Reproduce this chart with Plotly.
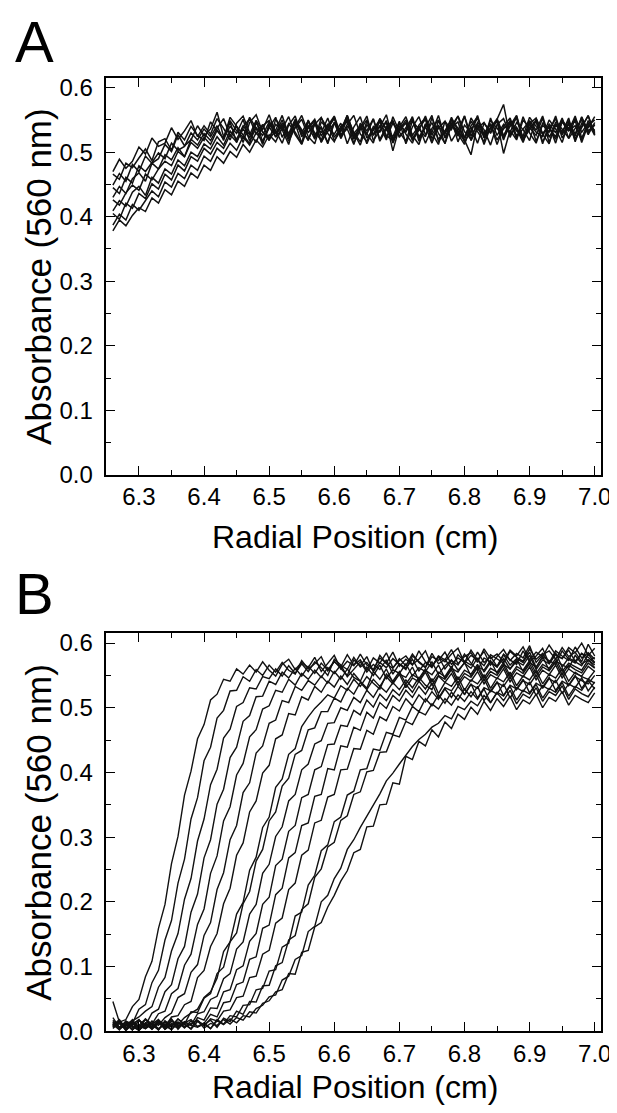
import plotly.graph_objects as go

# radial positions (cm) shared by every scan
RADIAL = [
    6.26, 6.27, 6.28, 6.29, 6.30, 6.31, 6.32, 6.33, 6.34, 6.35, 6.36, 6.37, 6.38, 6.39, 6.40,
    6.41, 6.42, 6.43, 6.44, 6.45, 6.46, 6.47, 6.48, 6.49, 6.50, 6.51, 6.52, 6.53, 6.54, 6.55,
    6.56, 6.57, 6.58, 6.59, 6.60, 6.61, 6.62, 6.63, 6.64, 6.65, 6.66, 6.67, 6.68, 6.69, 6.70,
    6.71, 6.72, 6.73, 6.74, 6.75, 6.76, 6.77, 6.78, 6.79, 6.80, 6.81, 6.82, 6.83, 6.84, 6.85,
    6.86, 6.87, 6.88, 6.89, 6.90, 6.91, 6.92, 6.93, 6.94, 6.95, 6.96, 6.97, 6.98, 6.99, 7.00,
]

# Panel A: absorbance at 560 nm, one list per scan
SCANS_A = [
    [0.470, 0.489, 0.475, 0.486, 0.508, 0.497, 0.522, 0.509, 0.514, 0.538, 0.520, 0.533, 0.549, 0.524, 0.541,
     0.528, 0.552, 0.537, 0.519, 0.545, 0.556, 0.530, 0.515, 0.541, 0.549, 0.523, 0.536, 0.555, 0.527, 0.512,
     0.539, 0.551, 0.525, 0.544, 0.518, 0.533, 0.557, 0.529, 0.541, 0.513, 0.536, 0.550, 0.522, 0.545, 0.531,
     0.517, 0.548, 0.536, 0.524, 0.553, 0.529, 0.514, 0.541, 0.556, 0.532, 0.520, 0.546, 0.535, 0.511, 0.543,
     0.552, 0.527, 0.539, 0.518, 0.549, 0.534, 0.556, 0.523, 0.542, 0.530, 0.553, 0.516, 0.545, 0.538, 0.555],
    [0.466, 0.458, 0.483, 0.476, 0.491, 0.505, 0.487, 0.516, 0.521, 0.503, 0.531, 0.519, 0.540, 0.526, 0.518,
     0.547, 0.533, 0.521, 0.554, 0.540, 0.526, 0.513, 0.549, 0.535, 0.558, 0.529, 0.542, 0.517, 0.538, 0.551,
     0.524, 0.513, 0.547, 0.536, 0.555, 0.521, 0.540, 0.531, 0.516, 0.548, 0.527, 0.539, 0.558, 0.519, 0.535,
     0.550, 0.526, 0.512, 0.543, 0.531, 0.557, 0.522, 0.538, 0.547, 0.515, 0.533, 0.553, 0.528, 0.544, 0.519,
     0.536, 0.548, 0.521, 0.555, 0.530, 0.514, 0.545, 0.537, 0.524, 0.551, 0.533, 0.541, 0.519, 0.549, 0.532],
    [0.449, 0.467, 0.455, 0.481, 0.470, 0.494, 0.483, 0.490, 0.512, 0.501, 0.527, 0.510, 0.519, 0.541, 0.525,
     0.536, 0.562, 0.524, 0.547, 0.515, 0.539, 0.552, 0.528, 0.543, 0.519, 0.534, 0.557, 0.526, 0.545, 0.514,
     0.548, 0.530, 0.519, 0.541, 0.556, 0.527, 0.536, 0.512, 0.545, 0.533, 0.552, 0.520, 0.539, 0.549, 0.525,
     0.534, 0.555, 0.521, 0.540, 0.514, 0.549, 0.530, 0.543, 0.525, 0.556, 0.518, 0.537, 0.546, 0.529, 0.551,
     0.522, 0.540, 0.553, 0.517, 0.544, 0.531, 0.524, 0.550, 0.536, 0.515, 0.547, 0.528, 0.554, 0.533, 0.542],
    [0.445, 0.436, 0.461, 0.452, 0.479, 0.470, 0.484, 0.499, 0.490, 0.514, 0.503, 0.509, 0.530, 0.519, 0.536,
     0.524, 0.541, 0.518, 0.549, 0.533, 0.523, 0.554, 0.537, 0.512, 0.544, 0.529, 0.550, 0.521, 0.539, 0.557,
     0.530, 0.546, 0.515, 0.537, 0.552, 0.524, 0.543, 0.557, 0.528, 0.517, 0.540, 0.531, 0.549, 0.514, 0.538,
     0.545, 0.518, 0.534, 0.556, 0.527, 0.542, 0.513, 0.551, 0.536, 0.523, 0.548, 0.531, 0.516, 0.553, 0.526,
     0.543, 0.530, 0.556, 0.521, 0.538, 0.549, 0.516, 0.535, 0.552, 0.527, 0.544, 0.519, 0.537, 0.557, 0.529],
    [0.430, 0.447, 0.436, 0.459, 0.468, 0.455, 0.483, 0.474, 0.496, 0.488, 0.507, 0.493, 0.520, 0.511, 0.529,
     0.518, 0.537, 0.552, 0.526, 0.540, 0.515, 0.546, 0.558, 0.531, 0.521, 0.543, 0.535, 0.512, 0.549, 0.527,
     0.541, 0.520, 0.553, 0.536, 0.528, 0.545, 0.513, 0.539, 0.555, 0.522, 0.534, 0.547, 0.526, 0.518, 0.544,
     0.531, 0.550, 0.524, 0.538, 0.557, 0.516, 0.533, 0.544, 0.527, 0.512, 0.541, 0.555, 0.522, 0.537, 0.548,
     0.519, 0.546, 0.533, 0.525, 0.554, 0.540, 0.528, 0.513, 0.547, 0.536, 0.522, 0.553, 0.531, 0.545, 0.526],
    [0.426, 0.418, 0.437, 0.449, 0.441, 0.466, 0.457, 0.474, 0.486, 0.479, 0.501, 0.493, 0.515, 0.506, 0.523,
     0.512, 0.534, 0.521, 0.540, 0.529, 0.551, 0.517, 0.538, 0.526, 0.547, 0.533, 0.514, 0.542, 0.556, 0.524,
     0.537, 0.549, 0.516, 0.532, 0.545, 0.523, 0.555, 0.530, 0.511, 0.543, 0.527, 0.552, 0.535, 0.519, 0.546,
     0.528, 0.514, 0.542, 0.553, 0.521, 0.537, 0.548, 0.517, 0.534, 0.556, 0.525, 0.543, 0.512, 0.539, 0.551,
     0.574, 0.523, 0.546, 0.535, 0.518, 0.552, 0.529, 0.541, 0.514, 0.548, 0.537, 0.525, 0.555, 0.530, 0.543],
    [0.409, 0.425, 0.416, 0.438, 0.447, 0.433, 0.461, 0.452, 0.474, 0.466, 0.488, 0.479, 0.500, 0.493, 0.513,
     0.505, 0.524, 0.511, 0.533, 0.520, 0.541, 0.527, 0.549, 0.516, 0.538, 0.554, 0.523, 0.544, 0.531, 0.513,
     0.550, 0.526, 0.539, 0.515, 0.546, 0.533, 0.557, 0.521, 0.540, 0.529, 0.514, 0.552, 0.536, 0.524, 0.548,
     0.513, 0.539, 0.555, 0.527, 0.546, 0.520, 0.533, 0.551, 0.516, 0.542, 0.530, 0.557, 0.523, 0.537, 0.548,
     0.498, 0.534, 0.519, 0.550, 0.538, 0.526, 0.553, 0.515, 0.544, 0.532, 0.549, 0.521, 0.540, 0.556, 0.527],
    [0.405, 0.396, 0.421, 0.413, 0.436, 0.428, 0.451, 0.443, 0.466, 0.457, 0.480, 0.471, 0.493, 0.486, 0.506,
     0.497, 0.515, 0.506, 0.527, 0.516, 0.536, 0.522, 0.545, 0.531, 0.518, 0.551, 0.537, 0.526, 0.548, 0.533,
     0.520, 0.543, 0.554, 0.529, 0.516, 0.540, 0.549, 0.525, 0.537, 0.556, 0.518, 0.534, 0.546, 0.502, 0.539,
     0.555, 0.526, 0.541, 0.514, 0.537, 0.550, 0.523, 0.545, 0.531, 0.518, 0.553, 0.536, 0.527, 0.544, 0.512,
     0.540, 0.553, 0.525, 0.536, 0.548, 0.517, 0.542, 0.531, 0.556, 0.522, 0.538, 0.549, 0.515, 0.543, 0.534],
    [0.387, 0.404, 0.395, 0.419, 0.410, 0.426, 0.440, 0.431, 0.454, 0.446, 0.467, 0.459, 0.480, 0.472, 0.494,
     0.486, 0.506, 0.497, 0.514, 0.503, 0.524, 0.511, 0.530, 0.517, 0.539, 0.524, 0.545, 0.529, 0.551, 0.535,
     0.518, 0.544, 0.530, 0.553, 0.523, 0.538, 0.547, 0.514, 0.535, 0.550, 0.527, 0.541, 0.519, 0.555, 0.532,
     0.546, 0.521, 0.537, 0.551, 0.515, 0.540, 0.528, 0.554, 0.533, 0.519, 0.496, 0.543, 0.526, 0.549, 0.537,
     0.524, 0.549, 0.536, 0.515, 0.544, 0.553, 0.528, 0.539, 0.520, 0.547, 0.533, 0.556, 0.522, 0.541, 0.550],
    [0.378, 0.395, 0.386, 0.402, 0.414, 0.408, 0.429, 0.421, 0.442, 0.434, 0.455, 0.447, 0.468, 0.460, 0.480,
     0.472, 0.493, 0.483, 0.501, 0.492, 0.512, 0.500, 0.519, 0.508, 0.527, 0.516, 0.538, 0.524, 0.545, 0.530,
     0.549, 0.524, 0.538, 0.513, 0.546, 0.532, 0.555, 0.520, 0.541, 0.528, 0.551, 0.517, 0.536, 0.547, 0.523,
     0.538, 0.553, 0.517, 0.544, 0.529, 0.512, 0.548, 0.535, 0.556, 0.522, 0.539, 0.514, 0.545, 0.531, 0.552,
     0.526, 0.541, 0.557, 0.519, 0.535, 0.548, 0.513, 0.544, 0.530, 0.553, 0.521, 0.537, 0.550, 0.527, 0.546],
]

# Panel B: absorbance at 560 nm, one list per scan (boundary moving outwards)
SCANS_B = [
    [0.046, 0.014, 0.018, 0.038, 0.049, 0.084, 0.108, 0.159, 0.196, 0.259, 0.301, 0.365, 0.402, 0.452, 0.474,
     0.512, 0.521, 0.544, 0.541, 0.560, 0.552, 0.566, 0.555, 0.571, 0.558, 0.549, 0.567, 0.575, 0.559, 0.570,
     0.562, 0.578, 0.556, 0.569, 0.581, 0.560, 0.572, 0.565, 0.583, 0.566, 0.559, 0.577, 0.569, 0.586, 0.564,
     0.575, 0.566, 0.588, 0.571, 0.562, 0.580, 0.574, 0.590, 0.568, 0.579, 0.585, 0.570, 0.591, 0.576, 0.583,
     0.571, 0.589, 0.580, 0.594, 0.574, 0.586, 0.579, 0.597, 0.582, 0.576, 0.593, 0.585, 0.600, 0.581, 0.592],
    [0.021, 0.006, 0.015, 0.012, 0.034, 0.041, 0.075, 0.094, 0.141, 0.171, 0.229, 0.266, 0.328, 0.361, 0.418,
     0.439, 0.484, 0.496, 0.526, 0.527, 0.548, 0.541, 0.559, 0.550, 0.566, 0.555, 0.570, 0.558, 0.552, 0.573,
     0.560, 0.568, 0.579, 0.557, 0.571, 0.563, 0.582, 0.566, 0.574, 0.558, 0.577, 0.569, 0.585, 0.562, 0.573,
     0.580, 0.567, 0.575, 0.588, 0.564, 0.578, 0.571, 0.583, 0.592, 0.569, 0.581, 0.574, 0.587, 0.566, 0.579,
     0.590, 0.573, 0.584, 0.577, 0.596, 0.570, 0.582, 0.588, 0.575, 0.593, 0.579, 0.586, 0.571, 0.598, 0.580],
    [0.009, 0.018, 0.004, 0.016, 0.022, 0.031, 0.038, 0.068, 0.083, 0.124, 0.151, 0.204, 0.236, 0.294, 0.328,
     0.381, 0.405, 0.453, 0.467, 0.502, 0.508, 0.531, 0.529, 0.548, 0.545, 0.560, 0.549, 0.565, 0.553, 0.568,
     0.556, 0.571, 0.562, 0.550, 0.575, 0.566, 0.559, 0.578, 0.563, 0.570, 0.557, 0.581, 0.568, 0.561, 0.576,
     0.565, 0.583, 0.570, 0.562, 0.579, 0.573, 0.586, 0.567, 0.577, 0.570, 0.589, 0.574, 0.565, 0.582, 0.576,
     0.569, 0.587, 0.578, 0.572, 0.591, 0.575, 0.584, 0.569, 0.588, 0.580, 0.573, 0.594, 0.577, 0.585, 0.575],
    [0.014, 0.003, 0.011, 0.002, 0.017, 0.009, 0.028, 0.034, 0.061, 0.072, 0.112, 0.131, 0.184, 0.212, 0.268,
     0.296, 0.351, 0.374, 0.423, 0.439, 0.479, 0.488, 0.517, 0.518, 0.541, 0.536, 0.555, 0.546, 0.561, 0.549,
     0.564, 0.553, 0.569, 0.558, 0.572, 0.561, 0.550, 0.574, 0.565, 0.579, 0.556, 0.570, 0.562, 0.576, 0.567,
     0.559, 0.580, 0.571, 0.563, 0.584, 0.568, 0.575, 0.561, 0.582, 0.572, 0.566, 0.586, 0.570, 0.579, 0.564,
     0.583, 0.574, 0.567, 0.588, 0.571, 0.580, 0.592, 0.568, 0.582, 0.576, 0.589, 0.572, 0.584, 0.578, 0.569],
    [0.008, 0.015, 0.001, 0.012, 0.005, 0.019, 0.011, 0.027, 0.031, 0.058, 0.066, 0.102, 0.119, 0.165, 0.189,
     0.244, 0.271, 0.325, 0.347, 0.396, 0.414, 0.455, 0.466, 0.498, 0.503, 0.527, 0.524, 0.544, 0.535, 0.553,
     0.544, 0.558, 0.547, 0.562, 0.553, 0.566, 0.548, 0.560, 0.571, 0.555, 0.567, 0.559, 0.574, 0.552, 0.568,
     0.561, 0.575, 0.557, 0.570, 0.564, 0.580, 0.560, 0.573, 0.566, 0.583, 0.569, 0.558, 0.577, 0.571, 0.563,
     0.582, 0.566, 0.576, 0.570, 0.586, 0.562, 0.579, 0.573, 0.567, 0.588, 0.575, 0.569, 0.584, 0.572, 0.578],
    [0.017, 0.006, 0.013, 0.002, 0.010, 0.004, 0.016, 0.009, 0.021, 0.028, 0.052, 0.058, 0.091, 0.103, 0.148,
     0.168, 0.219, 0.245, 0.296, 0.318, 0.369, 0.384, 0.430, 0.441, 0.476, 0.481, 0.511, 0.508, 0.533, 0.527,
     0.542, 0.535, 0.549, 0.538, 0.556, 0.544, 0.560, 0.547, 0.541, 0.563, 0.550, 0.566, 0.545, 0.559, 0.553,
     0.568, 0.549, 0.562, 0.556, 0.571, 0.552, 0.565, 0.574, 0.558, 0.569, 0.561, 0.577, 0.555, 0.570, 0.563,
     0.576, 0.560, 0.572, 0.566, 0.581, 0.559, 0.574, 0.568, 0.585, 0.563, 0.577, 0.571, 0.565, 0.583, 0.570],
    [0.004, 0.013, 0.007, 0.018, 0.002, 0.011, 0.003, 0.015, 0.006, 0.022, 0.024, 0.041, 0.046, 0.083, 0.094,
     0.131, 0.151, 0.197, 0.221, 0.272, 0.291, 0.339, 0.356, 0.399, 0.411, 0.452, 0.458, 0.491, 0.489, 0.517,
     0.512, 0.533, 0.524, 0.541, 0.532, 0.549, 0.536, 0.553, 0.541, 0.530, 0.556, 0.544, 0.560, 0.539, 0.552,
     0.547, 0.563, 0.542, 0.558, 0.551, 0.566, 0.545, 0.561, 0.555, 0.570, 0.549, 0.564, 0.558, 0.573, 0.553,
     0.567, 0.560, 0.575, 0.556, 0.570, 0.563, 0.579, 0.558, 0.572, 0.566, 0.561, 0.581, 0.568, 0.574, 0.562],
    [0.011, 0.002, 0.016, 0.005, 0.009, 0.019, 0.003, 0.012, 0.007, 0.015, 0.010, 0.021, 0.028, 0.034, 0.052,
     0.061, 0.082, 0.123, 0.138, 0.181, 0.199, 0.249, 0.269, 0.315, 0.331, 0.377, 0.390, 0.428, 0.437, 0.471,
     0.486, 0.499, 0.509, 0.520, 0.515, 0.534, 0.527, 0.544, 0.533, 0.548, 0.538, 0.529, 0.552, 0.541, 0.556,
     0.537, 0.551, 0.545, 0.560, 0.540, 0.555, 0.548, 0.564, 0.543, 0.558, 0.552, 0.567, 0.546, 0.561, 0.555,
     0.570, 0.549, 0.564, 0.558, 0.573, 0.553, 0.567, 0.561, 0.576, 0.556, 0.569, 0.563, 0.558, 0.574, 0.566],
    [0.006, 0.014, 0.003, 0.010, 0.018, 0.005, 0.012, 0.002, 0.016, 0.008, 0.019, 0.011, 0.030, 0.029, 0.051,
     0.058, 0.089, 0.099, 0.138, 0.152, 0.197, 0.216, 0.263, 0.281, 0.325, 0.339, 0.379, 0.391, 0.428, 0.434,
     0.466, 0.469, 0.494, 0.494, 0.515, 0.509, 0.530, 0.521, 0.539, 0.528, 0.544, 0.533, 0.548, 0.537, 0.552,
     0.531, 0.546, 0.540, 0.555, 0.535, 0.550, 0.544, 0.559, 0.538, 0.553, 0.547, 0.562, 0.542, 0.556, 0.550,
     0.565, 0.545, 0.560, 0.553, 0.568, 0.548, 0.563, 0.557, 0.571, 0.551, 0.566, 0.559, 0.554, 0.569, 0.561],
    [0.013, 0.004, 0.009, 0.017, 0.002, 0.011, 0.006, 0.014, 0.003, 0.012, 0.007, 0.015, 0.009, 0.027, 0.030,
     0.049, 0.054, 0.081, 0.089, 0.127, 0.138, 0.181, 0.196, 0.244, 0.258, 0.301, 0.316, 0.356, 0.366, 0.404,
     0.413, 0.444, 0.449, 0.476, 0.477, 0.500, 0.496, 0.516, 0.508, 0.527, 0.516, 0.533, 0.524, 0.539, 0.528,
     0.543, 0.531, 0.547, 0.535, 0.528, 0.549, 0.539, 0.553, 0.534, 0.548, 0.541, 0.556, 0.537, 0.551, 0.545,
     0.560, 0.540, 0.554, 0.548, 0.563, 0.543, 0.558, 0.551, 0.566, 0.546, 0.560, 0.553, 0.549, 0.564, 0.556],
    [0.007, 0.016, 0.002, 0.012, 0.005, 0.018, 0.009, 0.003, 0.014, 0.006, 0.019, 0.010, 0.004, 0.021, 0.017,
     0.036, 0.035, 0.061, 0.064, 0.095, 0.101, 0.139, 0.151, 0.196, 0.207, 0.256, 0.266, 0.309, 0.318, 0.361,
     0.366, 0.404, 0.409, 0.443, 0.444, 0.473, 0.471, 0.496, 0.489, 0.512, 0.501, 0.521, 0.511, 0.528, 0.519,
     0.536, 0.524, 0.541, 0.529, 0.545, 0.522, 0.539, 0.533, 0.548, 0.527, 0.543, 0.537, 0.551, 0.530, 0.546,
     0.540, 0.555, 0.534, 0.549, 0.543, 0.558, 0.537, 0.552, 0.546, 0.561, 0.541, 0.555, 0.548, 0.544, 0.557],
    [0.015, 0.005, 0.011, 0.002, 0.017, 0.008, 0.013, 0.004, 0.010, 0.019, 0.003, 0.014, 0.009, 0.006, 0.012,
     0.026, 0.022, 0.044, 0.046, 0.072, 0.076, 0.111, 0.115, 0.159, 0.164, 0.211, 0.221, 0.268, 0.276, 0.318,
     0.322, 0.363, 0.366, 0.406, 0.404, 0.441, 0.439, 0.470, 0.465, 0.493, 0.484, 0.508, 0.499, 0.519, 0.510,
     0.527, 0.516, 0.533, 0.521, 0.538, 0.515, 0.531, 0.526, 0.541, 0.520, 0.536, 0.530, 0.545, 0.524, 0.539,
     0.533, 0.548, 0.528, 0.542, 0.536, 0.551, 0.530, 0.545, 0.539, 0.554, 0.534, 0.548, 0.542, 0.537, 0.550],
    [0.010, 0.003, 0.014, 0.007, 0.001, 0.012, 0.005, 0.016, 0.009, 0.002, 0.013, 0.006, 0.011, 0.017, 0.008,
     0.019, 0.016, 0.031, 0.033, 0.052, 0.054, 0.083, 0.085, 0.119, 0.125, 0.167, 0.175, 0.219, 0.229, 0.272,
     0.280, 0.322, 0.326, 0.362, 0.366, 0.404, 0.405, 0.437, 0.436, 0.465, 0.459, 0.486, 0.480, 0.502, 0.495,
     0.514, 0.503, 0.520, 0.509, 0.525, 0.513, 0.529, 0.516, 0.533, 0.521, 0.537, 0.515, 0.531, 0.526, 0.540,
     0.519, 0.535, 0.529, 0.544, 0.523, 0.538, 0.532, 0.547, 0.527, 0.541, 0.535, 0.550, 0.530, 0.544, 0.538],
    [0.006, 0.012, 0.002, 0.015, 0.008, 0.004, 0.011, 0.018, 0.003, 0.010, 0.014, 0.005, 0.016, 0.007, 0.013,
     0.004, 0.018, 0.011, 0.024, 0.022, 0.040, 0.041, 0.064, 0.066, 0.093, 0.095, 0.130, 0.136, 0.178, 0.184,
     0.226, 0.241, 0.279, 0.288, 0.324, 0.331, 0.365, 0.371, 0.404, 0.406, 0.436, 0.434, 0.462, 0.459, 0.485,
     0.481, 0.502, 0.494, 0.514, 0.503, 0.520, 0.507, 0.524, 0.512, 0.529, 0.517, 0.533, 0.511, 0.527, 0.521,
     0.537, 0.515, 0.531, 0.525, 0.540, 0.519, 0.534, 0.528, 0.543, 0.522, 0.537, 0.531, 0.546, 0.526, 0.540],
    [0.013, 0.005, 0.009, 0.016, 0.002, 0.011, 0.007, 0.014, 0.004, 0.018, 0.008, 0.012, 0.003, 0.015, 0.010,
     0.017, 0.006, 0.020, 0.015, 0.031, 0.026, 0.046, 0.045, 0.070, 0.071, 0.101, 0.106, 0.141, 0.148, 0.188,
     0.197, 0.238, 0.251, 0.285, 0.292, 0.326, 0.333, 0.366, 0.370, 0.401, 0.403, 0.431, 0.432, 0.458, 0.455,
     0.479, 0.474, 0.494, 0.489, 0.506, 0.498, 0.514, 0.504, 0.520, 0.510, 0.525, 0.513, 0.529, 0.508, 0.524,
     0.518, 0.533, 0.512, 0.527, 0.521, 0.536, 0.515, 0.530, 0.524, 0.539, 0.518, 0.533, 0.527, 0.542, 0.529],
    [0.008, 0.014, 0.003, 0.011, 0.017, 0.006, 0.012, 0.002, 0.015, 0.009, 0.005, 0.013, 0.018, 0.007, 0.011,
     0.004, 0.016, 0.010, 0.019, 0.013, 0.024, 0.022, 0.035, 0.040, 0.053, 0.056, 0.079, 0.085, 0.111, 0.117,
     0.154, 0.162, 0.200, 0.210, 0.236, 0.252, 0.281, 0.296, 0.315, 0.332, 0.351, 0.367, 0.387, 0.399, 0.413,
     0.426, 0.440, 0.451, 0.459, 0.470, 0.476, 0.488, 0.483, 0.502, 0.497, 0.510, 0.503, 0.519, 0.508, 0.523,
     0.511, 0.527, 0.506, 0.521, 0.515, 0.531, 0.510, 0.525, 0.519, 0.534, 0.513, 0.529, 0.522, 0.517, 0.532],
    [0.011, 0.004, 0.015, 0.008, 0.002, 0.013, 0.006, 0.017, 0.010, 0.003, 0.014, 0.007, 0.012, 0.016, 0.005,
     0.012, 0.009, 0.018, 0.011, 0.021, 0.017, 0.030, 0.028, 0.043, 0.047, 0.061, 0.064, 0.089, 0.088, 0.122,
     0.125, 0.161, 0.168, 0.192, 0.210, 0.232, 0.248, 0.276, 0.281, 0.316, 0.317, 0.350, 0.351, 0.384, 0.382,
     0.425, 0.420, 0.448, 0.441, 0.466, 0.455, 0.478, 0.468, 0.490, 0.482, 0.501, 0.490, 0.510, 0.496, 0.514,
     0.502, 0.518, 0.497, 0.512, 0.506, 0.521, 0.500, 0.516, 0.510, 0.525, 0.504, 0.519, 0.513, 0.508, 0.523],
]

X_TICKS = [6.3, 6.4, 6.5, 6.6, 6.7, 6.8, 6.9, 7.0]
X_TICK_TEXT = ["6.3", "6.4", "6.5", "6.6", "6.7", "6.8", "6.9", "7.0"]
Y_TICKS = [0.0, 0.1, 0.2, 0.3, 0.4, 0.5, 0.6]
Y_TICK_TEXT = ["0.0", "0.1", "0.2", "0.3", "0.4", "0.5", "0.6"]

assert all(len(s) == len(RADIAL) for s in SCANS_A + SCANS_B)

W, H = 617, 1113
FONT = "Liberation Sans, Arial, Helvetica, sans-serif"


def px_x(p):
    return p / W


def px_y(p):
    return 1 - p / H


fig = go.Figure()

for scan in SCANS_A:
    fig.add_trace(go.Scatter(x=RADIAL, y=scan, mode="lines", xaxis="x", yaxis="y",
                             line=dict(color="#111111", width=1.5), showlegend=False, hoverinfo="skip"))
for scan in SCANS_B:
    fig.add_trace(go.Scatter(x=RADIAL, y=scan, mode="lines", xaxis="x2", yaxis="y2",
                             line=dict(color="#111111", width=1.4), showlegend=False, hoverinfo="skip"))

x_dom = [px_x(100), px_x(603)]
tick_font = dict(family=FONT, size=24, color="black")


def xaxis(anchor):
    return dict(
        domain=x_dom, anchor=anchor, range=[6.25, 7.01],
        tickmode="array", tickvals=X_TICKS, ticktext=X_TICK_TEXT,
        ticks="inside", ticklen=9, tickwidth=1.3, tickcolor="black",
        minor=dict(ticks="inside", ticklen=5, tickwidth=1.3, tickcolor="black", tick0=6.25, dtick=0.05),
        showline=True, linewidth=1.6, linecolor="black", mirror="ticks",
        showgrid=False, zeroline=False,
        tickfont=tick_font, ticklabelstandoff=0,
    )


def yaxis(anchor, top, bottom):
    return dict(
        domain=[px_y(bottom), px_y(top)], anchor=anchor, range=[0, 0.615],
        tickmode="array", tickvals=Y_TICKS, ticktext=Y_TICK_TEXT,
        ticks="inside", ticklen=9, tickwidth=1.3, tickcolor="black",
        minor=dict(ticks="inside", ticklen=5, tickwidth=1.3, tickcolor="black", tick0=0, dtick=0.05),
        showline=True, linewidth=1.6, linecolor="black", mirror="ticks",
        showgrid=False, zeroline=False,
        tickfont=tick_font, ticklabelstandoff=7,
    )


fig.update_layout(
    width=W, height=H,
    margin=dict(l=0, r=0, t=0, b=0),
    paper_bgcolor="white", plot_bgcolor="white",
    xaxis=xaxis("y"), yaxis=yaxis("x", 67, 470),
    xaxis2=xaxis("y2"), yaxis2=yaxis("x2", 631, 1035),
    showlegend=False,
)

# panel letters
for letter, cy in (("A", 30), ("B", 591)):
    fig.add_annotation(text=letter, xref="paper", yref="paper", x=px_x(5), y=px_y(cy),
                       xanchor="left", yanchor="middle", showarrow=False,
                       font=dict(family=FONT, size=58, color="black"))

for cy in ((67 + 470) / 2, (631 + 1035) / 2):
    fig.add_annotation(text="Absorbance (560 nm)", xref="paper", yref="paper", x=px_x(31), y=px_y(cy),
                       xanchor="center", yanchor="middle", textangle=-90, showarrow=False,
                       font=dict(family=FONT, size=35, color="black"))

for cy in (533, 1092):
    fig.add_annotation(text="Radial Position (cm)", xref="paper", yref="paper", x=px_x(353), y=px_y(cy),
                       xanchor="center", yanchor="middle", showarrow=False,
                       font=dict(family=FONT, size=32, color="black"))

fig.write_html("out.html")
